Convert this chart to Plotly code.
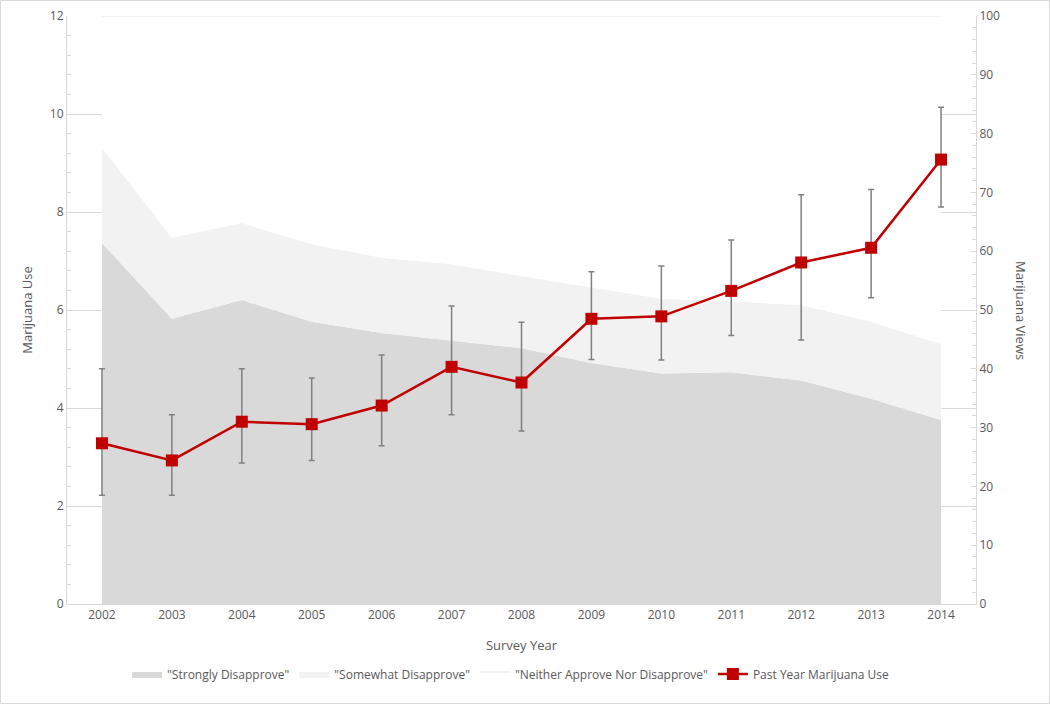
import plotly.graph_objects as go

years = ["2002", "2003", "2004", "2005", "2006", "2007", "2008",
         "2009", "2010", "2011", "2012", "2013", "2014"]

# Marijuana views (percent, right axis) - stacked
strongly = [61.4, 48.5, 51.7, 48.0, 46.1, 44.8, 43.5, 41.0, 39.2, 39.4, 38.0, 34.9, 31.3]
somewhat = [16.2, 13.8, 13.1, 13.2, 12.8, 13.0, 12.3, 12.9, 12.7, 12.1, 12.8, 13.1, 12.9]
neither = [round(100 - a - b, 1) for a, b in zip(strongly, somewhat)]

# Past year marijuana use (left axis) with asymmetric error bars
use = [3.28, 2.93, 3.72, 3.67, 4.05, 4.84, 4.52, 5.82, 5.87, 6.39, 6.97, 7.27, 9.07]
use_hi = [4.80, 3.86, 4.80, 4.61, 5.08, 6.08, 5.75, 6.78, 6.90, 7.43, 8.35, 8.46, 10.14]
use_lo = [2.22, 2.22, 2.88, 2.93, 3.23, 3.86, 3.53, 4.99, 4.98, 5.48, 5.39, 6.25, 8.10]

err_plus = [h - v for h, v in zip(use_hi, use)]
err_minus = [v - l for v, l in zip(use, use_lo)]

FONT = "Segoe UI, Open Sans, DejaVu Sans, sans-serif"
TXT = "#595959"
AX = "#d9d9d9"

fig = go.Figure()

fig.add_trace(go.Scatter(
    x=years, y=strongly, name='"Strongly Disapprove"', stackgroup="v",
    mode="lines", line=dict(width=0, color="#d9d9d9"), fillcolor="#d9d9d9",
    yaxis="y", hoverinfo="skip"))
fig.add_trace(go.Scatter(
    x=years, y=somewhat, name='"Somewhat Disapprove"', stackgroup="v",
    mode="lines", line=dict(width=0, color="#f2f2f2"), fillcolor="#f2f2f2",
    yaxis="y", hoverinfo="skip"))
fig.add_trace(go.Scatter(
    x=years, y=neither, name='"Neither Approve Nor Disapprove"', stackgroup="v",
    mode="lines", line=dict(width=1, color="#e8e8e8"), fillcolor="#ffffff",
    yaxis="y", hoverinfo="skip"))

fig.add_trace(go.Scatter(
    x=years, y=use, name="Past Year Marijuana Use", yaxis="y2",
    mode="lines+markers",
    line=dict(color="#c00000", width=2.5),
    marker=dict(symbol="square", size=12, color="#c00000"),
    error_y=dict(type="data", array=err_plus, arrayminus=err_minus,
                 symmetric=False, color="#808080", thickness=1.5, width=3)))

fig.update_layout(
    width=1050, height=704,
    margin=dict(l=67, r=74, t=16, b=100, autoexpand=False),
    paper_bgcolor="white", plot_bgcolor="white",
    font=dict(family=FONT, size=12, color=TXT),
    showlegend=True,
    legend=dict(orientation="h", x=0.488, xanchor="center", y=-0.119, yanchor="middle",
                font=dict(family=FONT, size=12, color=TXT), traceorder="normal",
                itemwidth=30),
    xaxis=dict(type="category", range=[-0.5, 12.5], showgrid=False, automargin=False,
               showline=True, linecolor=AX, linewidth=1, ticks="",
               tickfont=dict(family=FONT, size=12, color=TXT),
               title=dict(text="Survey Year", font=dict(family=FONT, size=13, color=TXT),
                          standoff=18)),
    yaxis=dict(side="right", range=[0, 100], dtick=10, showgrid=False, zeroline=False,
               automargin=False,
               showline=True, linecolor=AX, linewidth=1,
               ticks="inside", ticklen=5, tickcolor=AX,
               minor=dict(dtick=2, ticks="inside", ticklen=4, tickcolor=AX),
               tickfont=dict(family=FONT, size=12, color=TXT)),
    yaxis2=dict(side="left", overlaying="y", range=[0, 12], dtick=2, automargin=False,
                showgrid=True, gridcolor=AX, gridwidth=1, zeroline=False,
                showline=True, linecolor=AX, linewidth=1,
                ticks="", minor=dict(dtick=0.4, ticks="inside", ticklen=4, tickcolor=AX),
                tickfont=dict(family=FONT, size=12, color=TXT),
                title=dict(text="Marijuana Use", font=dict(family=FONT, size=13, color=TXT),
                           standoff=14)),
    annotations=[dict(text="Marijuana Views", xref="paper", yref="paper",
                      x=(1021 - 67) / 909, y=0.5, xanchor="center", yanchor="middle",
                      textangle=90, showarrow=False,
                      font=dict(family=FONT, size=13, color=TXT))],
    shapes=[dict(type="rect", xref="paper", yref="paper",
                 x0=(0.5 - 67) / 909, x1=(1049.5 - 67) / 909,
                 y0=-(703.5 - 604) / 588, y1=(604 - 0.5) / 588,
                 line=dict(color=AX, width=1), fillcolor="rgba(0,0,0,0)", layer="above")],
)

fig.write_html("out.html", config={"displayModeBar": False},
               post_script="document.body.style.margin='0';document.body.style.overflow='hidden';")
